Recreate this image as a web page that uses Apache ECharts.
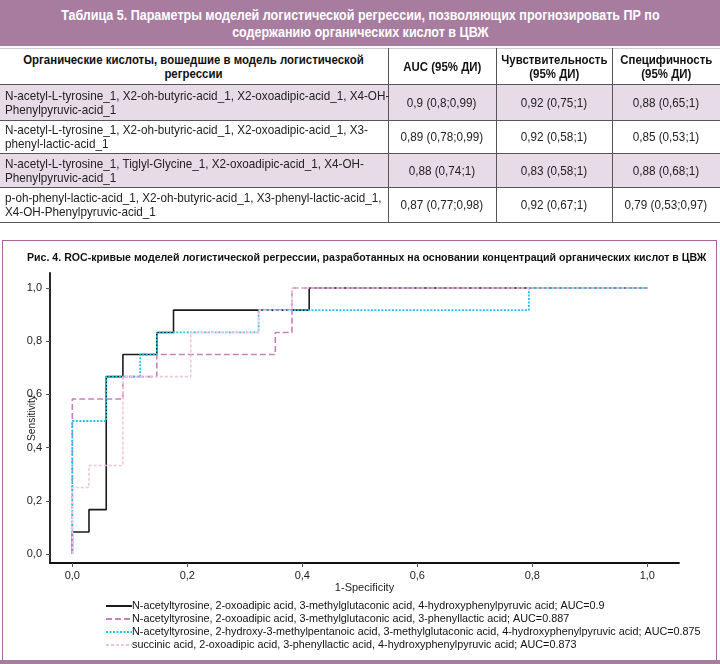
<!DOCTYPE html>
<html>
<head>
<meta charset="utf-8">
<script src="https://cdn.jsdelivr.net/npm/echarts@6/dist/echarts.min.js"></script>
<style>
  html, body { margin:0; padding:0; background:#fff; }
  body { width:720px; height:664px; position:relative; overflow:hidden;
         font-family:'Liberation Sans', Arial, sans-serif; }
  #band { position:absolute; left:0; top:0; width:720px; height:46px; background:#a77c9f;
          color:#fff; font-weight:bold; font-size:15px; line-height:17px;
          padding-top:6px; box-sizing:border-box; display:flex; justify-content:center; }
  .sx { display:inline-block; white-space:nowrap; transform:scaleX(0.835); text-align:center; }
  #tbl { position:absolute; left:0; top:48px; width:720px; border-collapse:collapse; table-layout:fixed; z-index:2; }
  #tbl td, #tbl th { border:1px solid #555; font-size:13px; line-height:14px; padding:0 5px; color:#222;
                     overflow:visible; white-space:nowrap; }
  #tbl th { font-weight:bold; background:#fff; color:#111; padding:0; }
  #tbl td.v { padding:0; }
  #tbl tr.alt td { background:#e7dbe7; }
  #tbl tr td:first-child, #tbl tr th:first-child { border-left:none; }
  #tbl tr td:last-child, #tbl tr th:last-child { border-right:none; }
  #tbl tr:first-child th { border-top:1px solid #ccc; }
  .c { display:flex; justify-content:center; text-align:center; }
  .cx { display:inline-block; white-space:nowrap; transform:scaleX(0.9); }
  .lx { display:inline-block; white-space:nowrap; transform:scaleX(0.9); transform-origin:left center; }
  .hx { display:inline-block; white-space:nowrap; transform:scaleX(0.88); }
  #box { position:absolute; left:2px; top:240px; width:715px; height:420px; border:1.5px solid #a4659c;
         border-bottom:none; box-sizing:border-box; }
  #bar { position:absolute; left:0; top:660px; width:720px; height:4px; background:#a77c9f; }
  #chart { position:absolute; left:0; top:0; width:720px; height:664px; z-index:1; }
</style>
</head>
<body>
<div id="band"><span class="sx">Таблица 5. Параметры моделей логистической регрессии, позволяющих прогнозировать ПР по<br>содержанию органических кислот в ЦВЖ</span></div>
<table id="tbl"></table>
<div id="box"></div>
<div id="bar"></div>
<div id="chart"></div>
<script>
// ---- table data ----
const tableHeaders = ["Органические кислоты, вошедшие в модель логистической<br>регрессии", "AUC (95% ДИ)", "Чувствительность<br>(95% ДИ)", "Специфичность<br>(95% ДИ)"];
const tableModels = [
  "N-acetyl-L-tyrosine_1, X2-oh-butyric-acid_1, X2-oxoadipic-acid_1, X4-OH-<br>Phenylpyruvic-acid_1",
  "N-acetyl-L-tyrosine_1, X2-oh-butyric-acid_1, X2-oxoadipic-acid_1, X3-<br>phenyl-lactic-acid_1",
  "N-acetyl-L-tyrosine_1, Tiglyl-Glycine_1, X2-oxoadipic-acid_1, X4-OH-<br>Phenylpyruvic-acid_1",
  "p-oh-phenyl-lactic-acid_1, X2-oh-butyric-acid_1, X3-phenyl-lactic-acid_1,<br>X4-OH-Phenylpyruvic-acid_1"
];
const tableAUC = ["0,9 (0,8;0,99)", "0,89 (0,78;0,99)", "0,88 (0,74;1)", "0,87 (0,77;0,98)"];
const tableSens = ["0,92 (0,75;1)", "0,92 (0,58;1)", "0,83 (0,58;1)", "0,92 (0,67;1)"];
const tableSpec = ["0,88 (0,65;1)", "0,85 (0,53;1)", "0,88 (0,68;1)", "0,79 (0,53;0,97)"];
const rowHeights = [36, 36, 33, 34, 35];

// ---- chart data (ROC points: 1-specificity, sensitivity) ----
const xTicks = [0, 0.2, 0.4, 0.6, 0.8, 1.0];
const yTicks = [0, 0.2, 0.4, 0.6, 0.8, 1.0];
const seriesNames = [
  "N-acetyltyrosine, 2-oxoadipic acid, 3-methylglutaconic acid, 4-hydroxyphenylpyruvic acid; AUC=0.9",
  "N-acetyltyrosine, 2-oxoadipic acid, 3-methylglutaconic acid, 3-phenyllactic acid; AUC=0.887",
  "N-acetyltyrosine, 2-hydroxy-3-methylpentanoic acid, 3-methylglutaconic acid, 4-hydroxyphenylpyruvic acid; AUC=0.875",
  "succinic acid, 2-oxoadipic acid, 3-phenyllactic acid, 4-hydroxyphenylpyruvic acid; AUC=0.873"
];
const fpr1 = [0, 0, 0.029, 0.059, 0.088, 0.147, 0.176, 0.412, 1];
const tpr1 = [0, 0.083, 0.167, 0.667, 0.75, 0.833, 0.917, 1, 1];
const fpr2 = [0, 0, 0.088, 0.147, 0.353, 0.382, 1];
const tpr2 = [0, 0.583, 0.667, 0.75, 0.833, 1, 1];
const fpr3 = [0, 0, 0.059, 0.118, 0.147, 0.324, 0.794, 1];
const tpr3 = [0, 0.5, 0.667, 0.75, 0.833, 0.917, 1, 1];
const fpr4 = [0, 0, 0.029, 0.088, 0.206, 0.324, 0.382, 1];
const tpr4 = [0, 0.25, 0.333, 0.667, 0.833, 0.917, 1, 1];

// build table
const tbl = document.getElementById('tbl');
let html = '<colgroup><col style="width:388px"><col style="width:108px"><col style="width:116px"><col style="width:108px"></colgroup>';
html += '<tr style="height:' + rowHeights[0] + 'px">' + tableHeaders.map(h => '<th><div class="c"><span class="hx">' + h + '</span></div></th>').join('') + '</tr>';
tableModels.forEach((m, i) => {
  html += '<tr class="' + (i % 2 === 0 ? 'alt' : '') + '" style="height:' + rowHeights[i + 1] + 'px"><td><span class="lx">' + m + '</span></td>' +
          '<td class="v"><div class="c"><span class="cx">' + tableAUC[i] + '</span></div></td>' +
          '<td class="v"><div class="c"><span class="cx">' + tableSens[i] + '</span></div></td>' +
          '<td class="v"><div class="c"><span class="cx">' + tableSpec[i] + '</span></div></td></tr>';
});
tbl.innerHTML = html;

const FONT = "'Liberation Sans', Arial, sans-serif";
const zip = (a, b) => a.map((v, i) => [v, b[i]]);
const styles = [
  { color: '#1a1a1a', type: 'solid', width: 1.6 },
  { color: '#c97fc0', type: [6, 3], width: 1.6 },
  { color: '#1cc6e2', type: [2, 1.5], width: 1.8 },
  { color: '#f2c3e0', type: [3, 2], width: 1.6 }
];
const datas = [zip(fpr1, tpr1), zip(fpr2, tpr2), zip(fpr3, tpr3), zip(fpr4, tpr4)];
const fmt = v => v.toFixed(1).replace('.', ',');

const chart = echarts.init(document.getElementById('chart'));
chart.setOption({
  animation: false,
  title: {
    text: 'Рис. 4. ROC-кривые моделей логистической регрессии, разработанных на основании концентраций органических кислот в ЦВЖ',
    left: 22, top: 248,
    textStyle: { fontFamily: FONT, fontWeight: 'bold', fontSize: 10.6, color: '#111' }
  },
  grid: { left: 50, right: 41, top: 273, bottom: 101 },
  xAxis: {
    type: 'value', min: -0.0388, max: 1.0551,
    splitLine: { show: false },
    axisLine: { onZero: false, lineStyle: { color: '#111', width: 1.8 } },
    axisTick: { show: true, customValues: xTicks, length: 4, lineStyle: { color: '#555' } },
    axisLabel: { customValues: xTicks, formatter: fmt, margin: 7, fontFamily: FONT, fontSize: 11, color: '#222' },
    name: '1-Specificity', nameLocation: 'middle', nameGap: 19,
    nameTextStyle: { fontFamily: FONT, fontSize: 11, color: '#222' }
  },
  yAxis: {
    type: 'value', min: -0.0338, max: 1.0564,
    splitLine: { show: false },
    axisLine: { show: true, onZero: false, lineStyle: { color: '#111', width: 1.8 } },
    axisTick: { show: true, customValues: yTicks, length: 4, lineStyle: { color: '#555' } },
    axisLabel: { customValues: yTicks, formatter: fmt, margin: 8, fontFamily: FONT, fontSize: 11, color: '#222' },
    name: 'Sensitivity', nameLocation: 'middle', nameGap: 13, nameMoveOverlap: false,
    nameTextStyle: { fontFamily: FONT, fontSize: 10.2, color: '#222' }
  },
  legend: {
    orient: 'vertical', left: 105, top: 600, padding: 0, itemWidth: 26, itemHeight: 12, itemGap: 1,
    itemStyle: { opacity: 0 },
    textStyle: { fontFamily: FONT, fontSize: 10.8, lineHeight: 12, color: '#111', padding: [0, 0, 0, -5] },
    data: seriesNames
  },
  series: seriesNames.map((n, i) => ({
    name: n, type: 'line', step: 'end', data: datas[i], showSymbol: false, symbol: 'none',
    lineStyle: styles[i], itemStyle: { color: styles[i].color }, z: 2 + i
  }))
});
</script>
</body>
</html>
